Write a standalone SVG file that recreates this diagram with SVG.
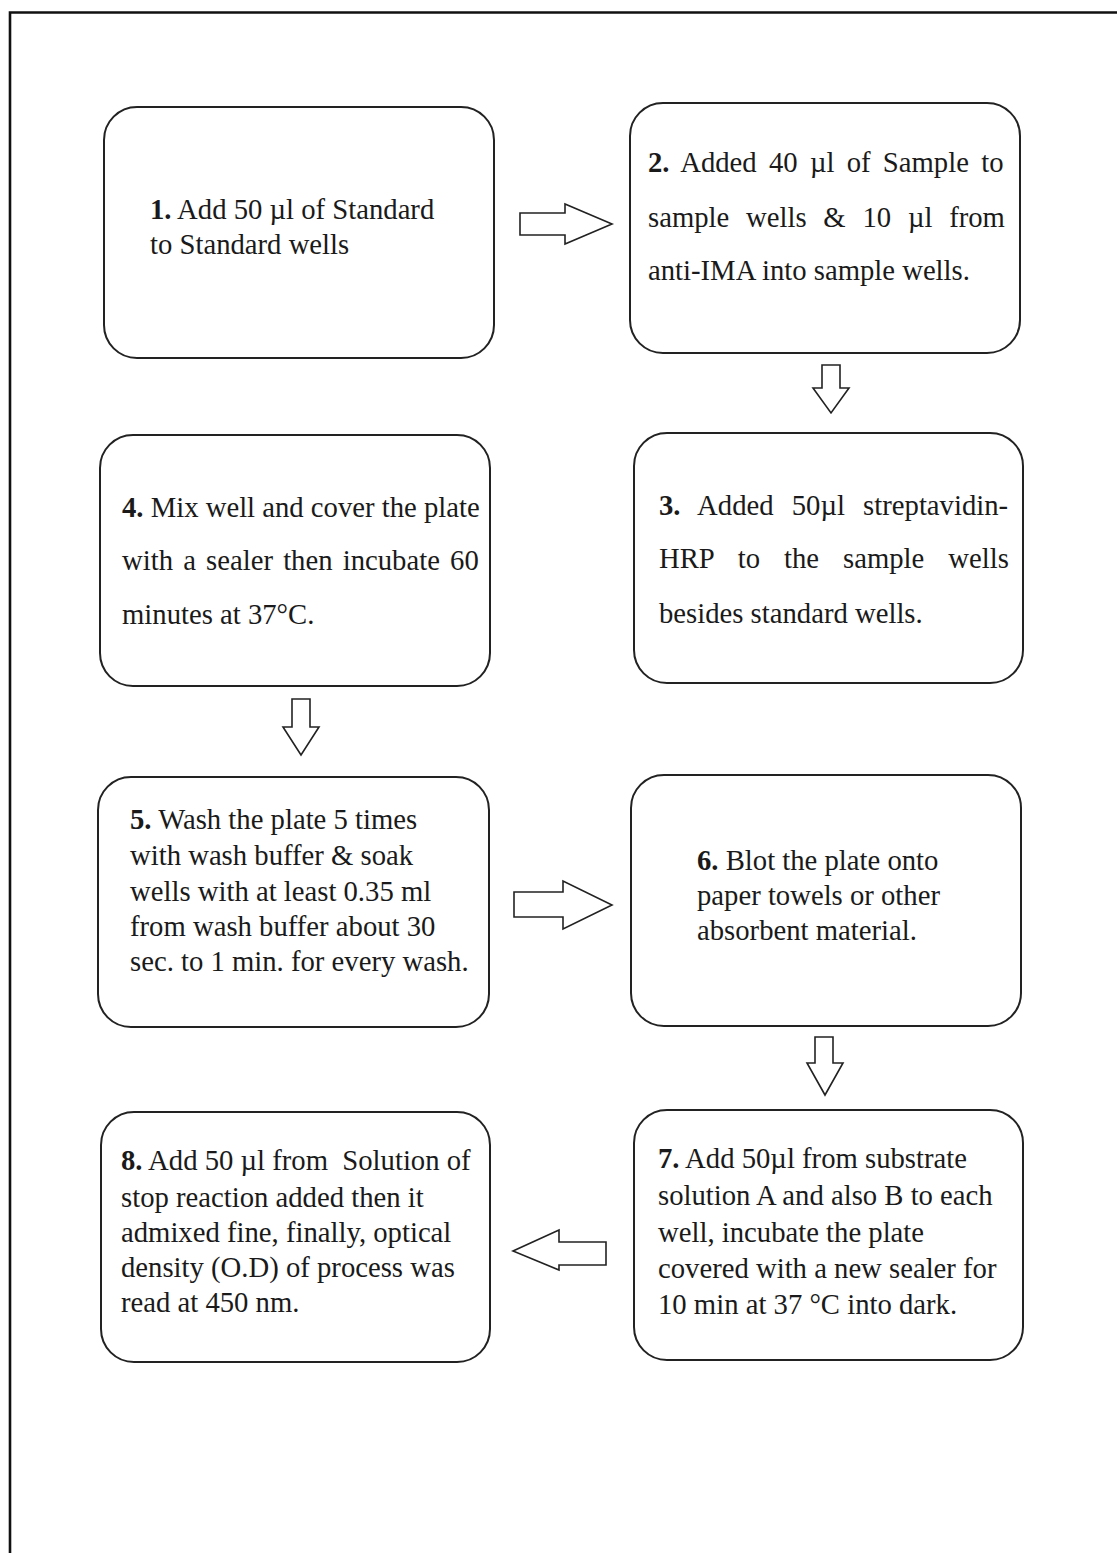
<svg xmlns="http://www.w3.org/2000/svg" width="1117" height="1553" viewBox="0 0 1117 1553">
<style>
.box{fill:#fff;stroke:#222;stroke-width:2}
.arr{fill:#fff;stroke:#222;stroke-width:1.6;stroke-linejoin:miter}
.t{font-family:"Liberation Serif","Times New Roman",serif;font-size:28.7px;fill:#1a1a1a}
.n{font-weight:bold}
</style>
<rect width="1117" height="1553" fill="#fff"/>
<path d="M10,1560 V12.5 H1125" fill="none" stroke="#111" stroke-width="2.6"/>

<g id="connectors">
<path class="arr" d="M520,213 H565 V204 L612,224 L565,244 V235 H520 Z"/>
<path class="arr" d="M822,365 H840 V388 H849 L831,413 L813,388 H822 Z"/>
<path class="arr" d="M292,699 H310 V727 H319 L301,755 L283,727 H292 Z"/>
<path class="arr" d="M514,892 H563 V881 L612,905 L563,929 V917 H514 Z"/>
<path class="arr" d="M815,1037 H833 V1063 H843 L825,1095 L807,1063 H815 Z"/>
<path class="arr" d="M606,1242 V1265 H559 V1270 L513,1251 L559,1230 V1242 Z"/>
</g>

<g id="step1">
<rect class="box" x="104" y="107" width="390" height="251" rx="33"/>
<text class="t" x="150" y="219"><tspan class="n">1.</tspan> Add 50 µl of Standard</text>
<text class="t" x="150" y="254">to Standard wells</text>
</g>

<g id="step2">
<rect class="box" x="630" y="103" width="390" height="250" rx="33"/>
<text class="t" x="648" y="172" word-spacing="5.1"><tspan class="n">2.</tspan> Added 40 µl of Sample to</text>
<text class="t" x="648" y="227" word-spacing="9.6">sample wells &amp; 10 µl from</text>
<text class="t" x="648" y="280">anti-IMA into sample wells.</text>
</g>

<g id="step3">
<rect class="box" x="634" y="433" width="389" height="250" rx="33"/>
<text class="t" x="659" y="515" word-spacing="11"><tspan class="n">3.</tspan> Added 50µl streptavidin-</text>
<text class="t" x="659" y="568" word-spacing="16.8">HRP to the sample wells</text>
<text class="t" x="659" y="623">besides standard wells.</text>
</g>

<g id="step4">
<rect class="box" x="100" y="435" width="390" height="251" rx="33"/>
<text class="t" x="122" y="517"><tspan class="n">4.</tspan> Mix well and cover the plate</text>
<text class="t" x="122" y="570" word-spacing="3">with a sealer then incubate 60</text>
<text class="t" x="122" y="624">minutes at 37°C.</text>
</g>

<g id="step5">
<rect class="box" x="98" y="777" width="391" height="250" rx="33"/>
<text class="t" x="130" y="829"><tspan class="n">5.</tspan> Wash the plate 5 times</text>
<text class="t" x="130" y="865">with wash buffer &amp; soak</text>
<text class="t" x="130" y="901">wells with at least 0.35 ml</text>
<text class="t" x="130" y="936">from wash buffer about 30</text>
<text class="t" x="130" y="971">sec. to 1 min. for every wash.</text>
</g>

<g id="step6">
<rect class="box" x="631" y="775" width="390" height="251" rx="33"/>
<text class="t" x="697" y="870"><tspan class="n">6.</tspan> Blot the plate onto</text>
<text class="t" x="697" y="905">paper towels or other</text>
<text class="t" x="697" y="940">absorbent material.</text>
</g>

<g id="step7">
<rect class="box" x="634" y="1110" width="389" height="250" rx="33"/>
<text class="t" x="658" y="1168"><tspan class="n">7.</tspan> Add 50µl from substrate</text>
<text class="t" x="658" y="1205">solution A and also B to each</text>
<text class="t" x="658" y="1242">well, incubate the plate</text>
<text class="t" x="658" y="1278">covered with a new sealer for</text>
<text class="t" x="658" y="1314">10 min at 37 °C into dark.</text>
</g>

<g id="step8">
<rect class="box" x="101" y="1112" width="389" height="250" rx="33"/>
<text class="t" x="121" y="1170" xml:space="preserve"><tspan class="n">8.</tspan> Add 50 µl from  Solution of</text>
<text class="t" x="121" y="1207">stop reaction added then it</text>
<text class="t" x="121" y="1242">admixed fine, finally, optical</text>
<text class="t" x="121" y="1277">density (O.D) of process was</text>
<text class="t" x="121" y="1312">read at 450 nm.</text>
</g>
</svg>
